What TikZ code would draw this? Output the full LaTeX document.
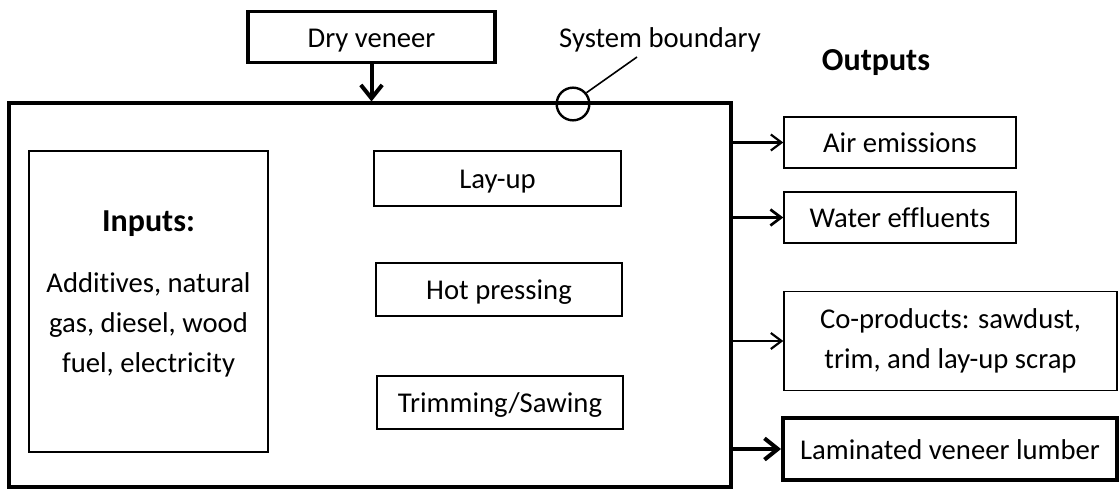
\documentclass[tikz,border=0pt]{standalone}
\usepackage{fontspec}
\setmainfont{Carlito}[Ligatures={NoCommon}]
\usetikzlibrary{positioning,arrows.meta}

\begin{document}
\begin{tikzpicture}[
    x=0.75pt, y=-0.75pt,
    every node/.style={font=\fontsize{21.5}{30}\selectfont},
    onerow/.style={text height=17pt, text depth=2pt},
    thinbox/.style={draw, line width=1.1pt, inner sep=0pt},
    thickbox/.style={draw, line width=2.6pt, inner sep=0pt},
    flow/.style={->, line width=1.6pt},
    bigflow/.style={->, line width=3pt, >={Straight Barb[length=10pt,width=16pt]}},
    >={Straight Barb[length=8pt,width=12pt]}
]

  \useasboundingbox (0,0) rectangle (1120,489);

  % system boundary
  \node[thickbox, line width=2.3pt, minimum width=541.5pt, minimum height=288pt] (sys) at (370,295) {};
  \node[circle, draw, line width=1.8pt, minimum size=24.5pt, inner sep=0pt] (mark) at (573,104) {};
  \node (sblabel) at (660,40) {System boundary};
  \coordinate (sbtip) at (637,57);
  \draw[line width=1.2pt] (mark.40) -- (sbtip);

  % feed
  \node[thickbox, onerow, minimum width=185.25pt, minimum height=38.25pt] (dry) at (371.5,37) {Dry veneer};
  \draw[bigflow] (dry.south) -- (dry.south |- sys.north);

  % inputs
  \node[thinbox, minimum width=179.25pt, minimum height=225.75pt] (inputs) at (148.5,301.5) {};
  \node[align=center] (inputstext) at (148.5,294) {{\fontsize{24}{30}\selectfont\bfseries Inputs:}\\[16pt]
    Additives, natural\\ gas, diesel, wood\\ fuel, electricity};

  % process steps
  \node[thinbox, onerow, minimum width=185.25pt, minimum height=41.25pt] (layup) at (497.5,178.5) {Lay-up};
  \node[thinbox, onerow, minimum width=184.5pt, minimum height=39.75pt] (hot) at (499,289.5) {Hot pressing};
  \node[thinbox, onerow, minimum width=184.5pt, minimum height=39.75pt] (trim) at (500,402.5) {Trimming/Sawing};

  % outputs
  \node[font=\fontsize{24}{30}\selectfont\bfseries] (outlabel) at (876,63) {Outputs};
  \node[thinbox, onerow, minimum width=174pt, minimum height=38.25pt] (air) at (900,142.5) {Air emissions};
  \node[thinbox, onerow, minimum width=174pt, minimum height=38.25pt] (water) at (900,217.5) {Water effluents};
  \node[thinbox, minimum width=249.75pt, minimum height=74.25pt, align=center] (coprod) at (950.5,341)
    {Co-products: sawdust,\\ trim, and lay-up scrap};
  \node[thickbox, onerow, line width=3pt, minimum width=250.5pt, minimum height=46.5pt] (lvl) at (950,449) {Laminated veneer lumber};

  \draw[flow] (sys.east |- air) -- (air.west);
  \draw[flow, line width=2pt] (sys.east |- water) -- (water.west);
  \draw[flow] (sys.east |- coprod) -- (coprod.west);
  \draw[bigflow] (sys.east |- lvl) -- (lvl.west);

\end{tikzpicture}
\end{document}
